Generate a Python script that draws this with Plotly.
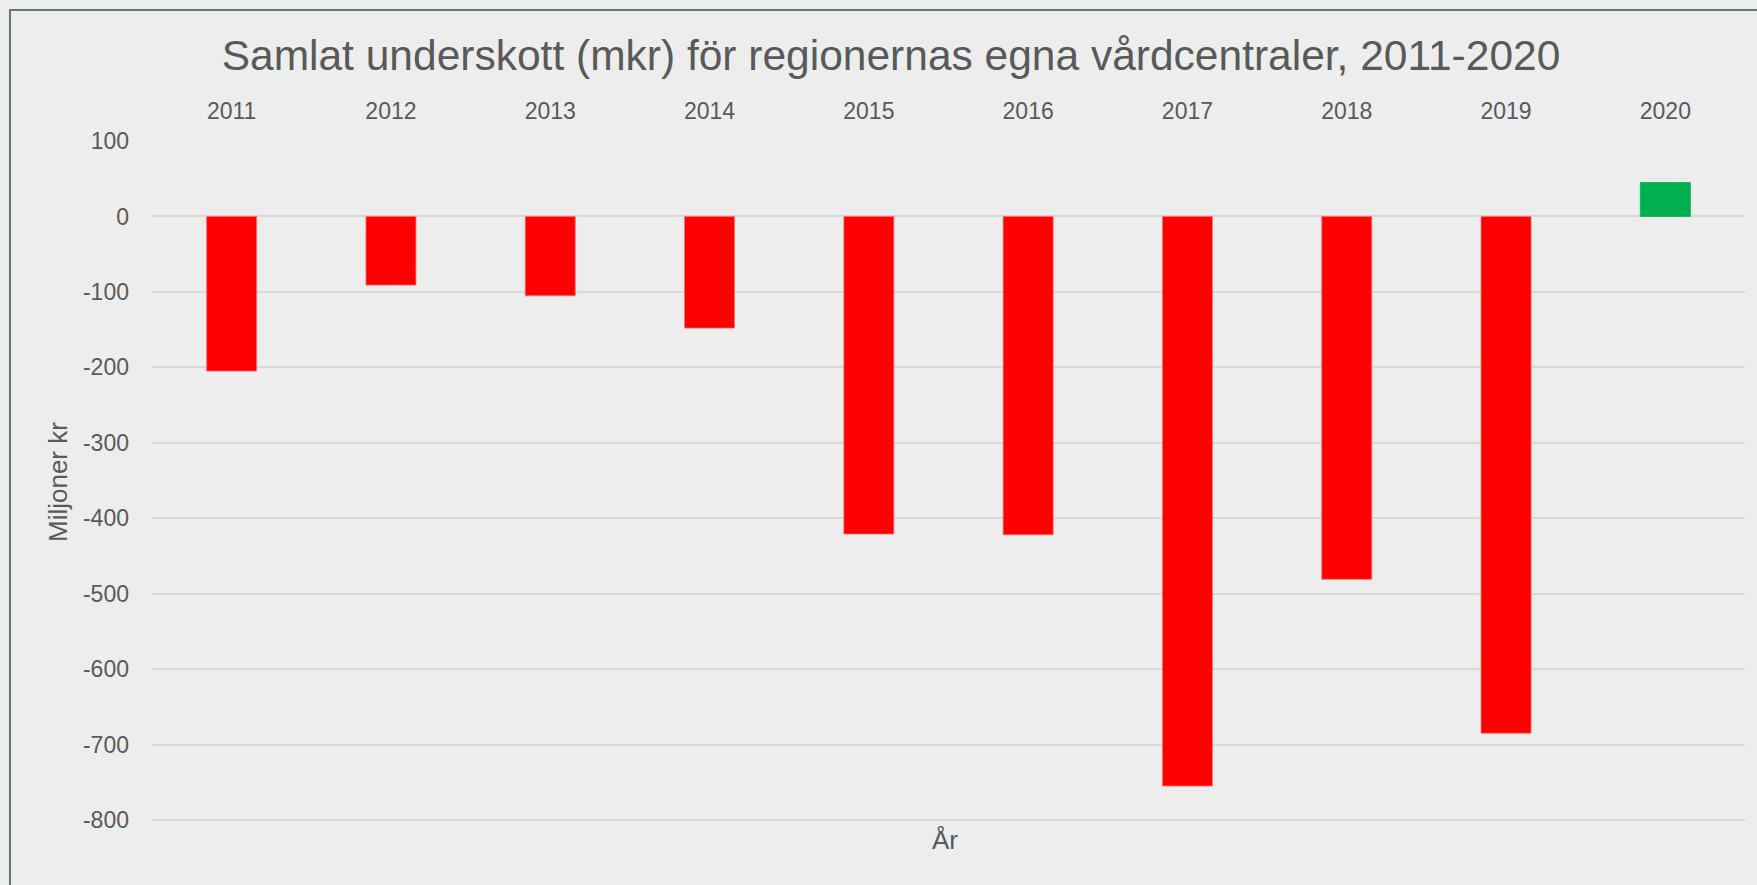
import plotly.graph_objects as go

years = ["2011", "2012", "2013", "2014", "2015", "2016", "2017", "2018", "2019", "2020"]
values = [-205, -91, -105, -148, -421, -422, -755, -481, -685, 45]
y_ticks = [100, 0, -100, -200, -300, -400, -500, -600, -700, -800]

title_text = "Samlat underskott (mkr) för regionernas egna vårdcentraler, 2011-2020"
y_title = "Miljoner kr"
x_title = "År"

W, H = 1757, 885
ML, MR, MT, MB = 152, 12, 140, 63
PW = W - ML - MR
PH = H - MT - MB

colors = ["#FF0000" if v < 0 else "#00B050" for v in values]
edge = ["#FF7070" if v < 0 else "#00B050" for v in values]

FONT = "Liberation Sans, Arial, sans-serif"
TXT = "#595959"
BG = "#EDEDED"

fig = go.Figure(go.Bar(
    x=years, y=values,
    marker=dict(color=colors, line=dict(color=edge, width=0.8)),
    hoverinfo="x+y",
))

def px_x(p):
    return (p - ML) / PW

def px_y(p):
    return (H - MB - p) / PH

fig.update_layout(
    width=W, height=H,
    margin=dict(l=ML, r=MR, t=MT, b=MB, autoexpand=False),
    paper_bgcolor=BG,
    plot_bgcolor=BG,
    showlegend=False,
    bargap=0.686,
    font=dict(family=FONT, color=TXT, size=23),
    title=dict(
        text=title_text,
        x=891 / W, xref="container", xanchor="center",
        y=1 - 55 / H, yref="container", yanchor="middle",
        font=dict(family=FONT, size=42.5, color=TXT),
    ),
    xaxis=dict(
        type="category",
        side="top",
        showgrid=False,
        zeroline=False,
        showline=False,
        ticks="",
        tickfont=dict(family=FONT, size=23, color=TXT),
        ticklabelstandoff=15,
    ),
    yaxis=dict(
        range=[-802.65, 101.33],
        tickvals=y_ticks,
        ticktext=[str(v) for v in y_ticks],
        showgrid=True,
        gridcolor="#D9D9D9",
        gridwidth=1.5,
        zeroline=False,
        showline=False,
        ticks="",
        tickfont=dict(family=FONT, size=23, color=TXT),
        ticklabelstandoff=22,
    ),
    annotations=[
        dict(text=y_title, xref="paper", yref="paper",
             x=px_x(58), y=px_y(482), xanchor="center", yanchor="middle",
             textangle=-90, showarrow=False,
             font=dict(family=FONT, size=26, color=TXT)),
        dict(text=x_title, xref="paper", yref="paper",
             x=px_x(945), y=px_y(840), xanchor="center", yanchor="middle",
             showarrow=False,
             font=dict(family=FONT, size=26, color=TXT)),
    ],
    shapes=[
        dict(type="line", xref="paper", yref="paper",
             x0=px_x(10), x1=px_x(10), y0=px_y(9), y1=px_y(H + 20),
             line=dict(color="#5F7B70", width=2)),
        dict(type="line", xref="paper", yref="paper",
             x0=px_x(9), x1=px_x(W + 20), y0=px_y(10), y1=px_y(10),
             line=dict(color="#5F7B70", width=2)),
    ],
)

fig.write_html(
    "out.html",
    config={"displayModeBar": False},
    post_script="document.body.style.margin='0px';document.body.style.background='#EDEDED';",
)
